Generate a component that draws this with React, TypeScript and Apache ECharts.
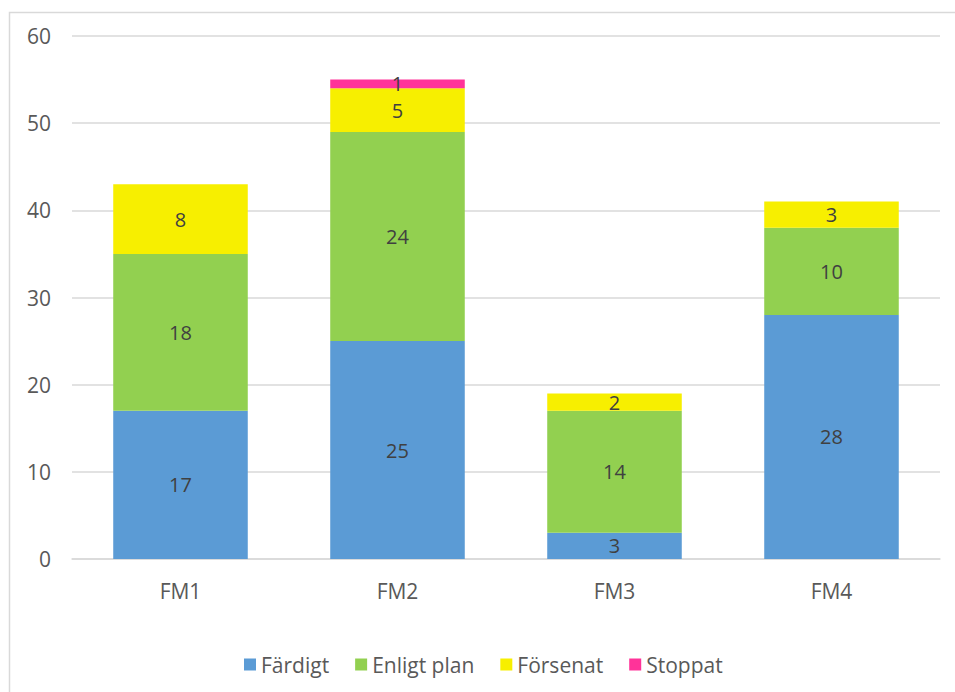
import React, { useEffect, useRef } from "react";
import * as echarts from "echarts";

const categories = ["FM1", "FM2", "FM3", "FM4"];
const fardigt = [17, 25, 3, 28];
const enligtPlan = [18, 24, 14, 10];
const forsenat = [8, 5, 2, 3];
const stoppat = [0, 1, 0, 0];
const seriesNames = ["Färdigt", "Enligt plan", "Försenat", "Stoppat"];
const colors = ["#5B9BD5", "#92D050", "#F7EF00", "#FF3399"];

export default function App() {
  const ref = useRef<HTMLDivElement>(null);
  useEffect(() => {
    if (!ref.current) return;
    const chart = echarts.init(ref.current, null, { renderer: "svg" });
    const data = [fardigt, enligtPlan, forsenat, stoppat];
    const font = "'Open Sans', sans-serif";
    chart.setOption({
      animation: false,
      textStyle: { fontFamily: font },
      graphic: [
        {
          type: "rect",
          shape: { x: 9.5, y: 12.5, width: 1000, height: 1000 },
          style: { fill: "none", stroke: "#d9d9d9", lineWidth: 1.5 },
          silent: true,
        },
      ],
      grid: { left: 72, right: 15, top: 36, bottom: 133, containLabel: false },
      legend: {
        top: 649,
        left: 239,
        itemWidth: 12,
        itemHeight: 12,
        itemGap: 26,
        icon: "rect",
        textStyle: { fontSize: 21, color: "#595959", fontFamily: font },
        data: seriesNames,
      },
      xAxis: {
        type: "category",
        data: categories,
        axisLine: { lineStyle: { color: "#d9d9d9", width: 1.5 } },
        axisTick: { show: false },
        axisLabel: { fontSize: 21, color: "#595959", margin: 21, fontFamily: font },
      },
      yAxis: {
        type: "value",
        min: 0,
        max: 60,
        interval: 10,
        splitLine: { lineStyle: { color: "#d9d9d9", width: 1.5 } },
        axisLabel: { fontSize: 21, color: "#595959", margin: 21, fontFamily: font },
      },
      series: seriesNames.map((name, i) => ({
        name,
        type: "bar",
        stack: "total",
        barWidth: "62%",
        itemStyle: { color: colors[i] },
        label: {
          show: true,
          position: "inside",
          fontSize: 20,
          color: "#404040",
          fontFamily: font,
          formatter: (p: any) => (p.value ? String(p.value) : ""),
        },
        data: data[i].map((v) => (v === 0 ? null : v)),
      })),
    });
    return () => chart.dispose();
  }, []);
  return (
    <div
      ref={ref}
      style={{ position: "absolute", left: 0, top: 0, width: 955, height: 692, background: "#fff" }}
    />
  );
}
